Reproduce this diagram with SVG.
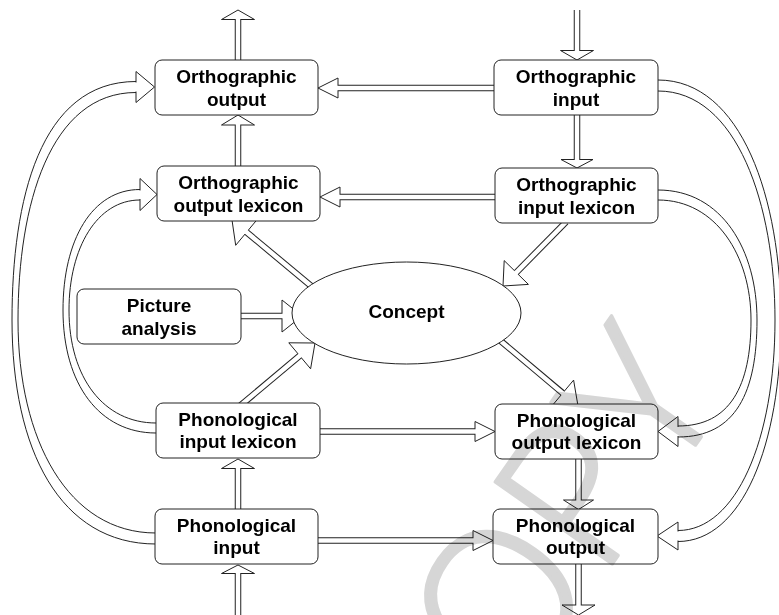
<svg xmlns="http://www.w3.org/2000/svg" width="779" height="615" viewBox="0 0 779 615">
<style>
.box{fill:#fff;stroke:#222;stroke-width:1}
.lbl{font-family:"Liberation Sans",Arial,sans-serif;font-weight:bold;font-size:19px;fill:#000;text-anchor:middle}
.so{stroke:#222;stroke-width:6.5;fill:none}
.si{stroke:#fff;stroke-width:4.5;fill:none}
.hd{fill:#fff;stroke:#222;stroke-width:1;stroke-linejoin:miter}
.cv{fill:none;stroke:#222;stroke-width:1}
.gap{stroke:#fff;stroke-width:2}
.wm{font-family:"Open Sans","Liberation Sans",sans-serif;font-weight:300;font-size:200px;fill:#d6d6d6;stroke:#d6d6d6;stroke-width:3.5;stroke-linejoin:round;mix-blend-mode:multiply}
</style>
<rect width="779" height="615" fill="#fff"/>
<g id="connectors">
  <path class="cv" d="M136,81.5 C40,81.5 12,200 12,320 C12,450 60,544 156,544"/>
  <path class="cv" d="M136,92.5 C50,92.5 18,205 18,320 C18,440 68,533 156,533"/>
  <polygon class="hd" points="136,71.5 136,102.5 154.5,87"/>
  <line class="gap" x1="136" y1="82.5" x2="136" y2="91.5"/>

  <path class="cv" d="M140,189.5 C92,189.5 63,240 63,310 C63,385 100,433 156,433"/>
  <path class="cv" d="M140,200 C97,200 69,248 69,310 C69,378 104,423 156,423"/>
  <polygon class="hd" points="140,178.5 140,210.5 157,194.5"/>
  <line class="gap" x1="140" y1="190.5" x2="140" y2="199"/>

  <path class="cv" d="M658,190 C722,190 757,250 757,320 C757,392 736,437 678,437"/>
  <path class="cv" d="M658,200 C716,200 751,256 751,320 C751,386 730,426 678,426"/>
  <polygon class="hd" points="678,416.5 678,446.5 658,431.5"/>
  <line class="gap" x1="678" y1="427" x2="678" y2="436"/>

  <path class="cv" d="M658,80 C742,80 781,200 781,320 C781,445 742,541.5 678,541.5"/>
  <path class="cv" d="M658,91 C737,91 775,205 775,320 C775,440 736,530.5 678,530.5"/>
  <polygon class="hd" points="678,522 678,550 657,536"/>
  <line class="gap" x1="678" y1="531.5" x2="678" y2="540.5"/>

  <line class="so" x1="238" y1="62" x2="238" y2="19.5"/>
  <polygon class="hd" points="221.5,19.5 254.5,19.5 238,10"/>
  <line class="si" x1="238" y1="62" x2="238" y2="18"/>

  <line class="so" x1="238" y1="168" x2="238" y2="125"/>
  <polygon class="hd" points="221.5,125 254.5,125 238,115"/>
  <line class="si" x1="238" y1="168" x2="238" y2="123.5"/>

  <line class="so" x1="577" y1="10" x2="577" y2="50.5"/>
  <polygon class="hd" points="560.5,50.5 593.5,50.5 577,60"/>
  <line class="si" x1="577" y1="10" x2="577" y2="52"/>

  <line class="so" x1="577" y1="114" x2="577" y2="159.5"/>
  <polygon class="hd" points="561,159.5 593,159.5 577,168"/>
  <line class="si" x1="577" y1="114" x2="577" y2="161"/>

  <line class="so" x1="495" y1="88" x2="338" y2="88"/>
  <polygon class="hd" points="338,78 338,98 318,88"/>
  <line class="si" x1="495" y1="88" x2="336.5" y2="88"/>

  <line class="so" x1="496" y1="197" x2="340" y2="197"/>
  <polygon class="hd" points="340,187 340,207 320,197"/>
  <line class="si" x1="496" y1="197" x2="338.5" y2="197"/>

  <line class="so" x1="566" y1="222" x2="516.3" y2="272.5"/>
  <polygon class="hd" points="528.4,284.4 504.2,260.6 503,286"/>
  <line class="si" x1="566" y1="222" x2="515.2" y2="273.6"/>

  <line class="so" x1="316" y1="290" x2="246.6" y2="232.2"/>
  <polygon class="hd" points="257.5,219.1 235.7,245.3 232,220"/>
  <line class="si" x1="316" y1="290" x2="245.4" y2="231.2"/>

  <line class="so" x1="240" y1="316" x2="282" y2="316"/>
  <polygon class="hd" points="282,300 282,332 302,316"/>
  <line class="si" x1="240" y1="316" x2="283.5" y2="316"/>

  <line class="so" x1="235" y1="410" x2="299.7" y2="355.8"/>
  <polygon class="hd" points="310.6,368.8 288.8,342.8 315,343"/>
  <line class="si" x1="235" y1="410" x2="300.9" y2="354.8"/>

  <line class="so" x1="490" y1="332" x2="562.7" y2="393.1"/>
  <polygon class="hd" points="551.8,406.1 573.6,380.1 578,406"/>
  <line class="si" x1="490" y1="332" x2="563.8" y2="394.1"/>

  <line class="so" x1="319" y1="431.5" x2="475" y2="431.5"/>
  <polygon class="hd" points="475,421.5 475,441.5 495,431.5"/>
  <line class="si" x1="319" y1="431.5" x2="476.5" y2="431.5"/>

  <line class="so" x1="238" y1="510" x2="238" y2="468.5"/>
  <polygon class="hd" points="221.5,468.5 254.5,468.5 238,459"/>
  <line class="si" x1="238" y1="510" x2="238" y2="467"/>

  <line class="so" x1="238" y1="615" x2="238" y2="573.5"/>
  <polygon class="hd" points="221.5,573.5 254.5,573.5 238,565"/>
  <line class="si" x1="238" y1="615" x2="238" y2="572"/>

  <line class="so" x1="317" y1="540.5" x2="473" y2="540.5"/>
  <polygon class="hd" points="473,530.5 473,550.5 493,540.5"/>
  <line class="si" x1="317" y1="540.5" x2="474.5" y2="540.5"/>

  <line class="so" x1="578.5" y1="458" x2="578.5" y2="500"/>
  <polygon class="hd" points="563.5,500 593.5,500 578.5,509.5"/>
  <line class="si" x1="578.5" y1="458" x2="578.5" y2="501.5"/>

  <line class="so" x1="578.5" y1="563" x2="578.5" y2="605"/>
  <polygon class="hd" points="562,605 595,605 578.5,615"/>
  <line class="si" x1="578.5" y1="563" x2="578.5" y2="606.5"/>
</g>
<g id="ortho_output">
  <rect class="box" x="155" y="60" width="163" height="55" rx="7"/>
  <text class="lbl" x="236.5" y="83">Orthographic</text>
  <text class="lbl" x="236.5" y="105.5">output</text>
</g>
<g id="ortho_input">
  <rect class="box" x="494" y="60" width="164" height="55" rx="7"/>
  <text class="lbl" x="576" y="83">Orthographic</text>
  <text class="lbl" x="576" y="105.5">input</text>
</g>
<g id="ortho_output_lexicon">
  <rect class="box" x="157" y="166" width="163" height="55" rx="7"/>
  <text class="lbl" x="238.5" y="189">Orthographic</text>
  <text class="lbl" x="238.5" y="211.5">output lexicon</text>
</g>
<g id="ortho_input_lexicon">
  <rect class="box" x="495" y="168" width="163" height="55" rx="7"/>
  <text class="lbl" x="576.5" y="191">Orthographic</text>
  <text class="lbl" x="576.5" y="213.5">input lexicon</text>
</g>
<g id="picture_analysis">
  <rect class="box" x="77" y="289" width="164" height="55" rx="7"/>
  <text class="lbl" x="159" y="312">Picture</text>
  <text class="lbl" x="159" y="334.5">analysis</text>
</g>
<g id="concept">
  <ellipse class="box" cx="406.5" cy="313" rx="114.5" ry="51"/>
  <text class="lbl" x="406.5" y="318">Concept</text>
</g>
<g id="phon_input_lexicon">
  <rect class="box" x="156" y="403" width="164" height="55" rx="7"/>
  <text class="lbl" x="238" y="425.5">Phonological</text>
  <text class="lbl" x="238" y="448">input lexicon</text>
</g>
<g id="phon_output_lexicon">
  <rect class="box" x="495" y="404" width="163" height="55" rx="7"/>
  <text class="lbl" x="576.5" y="426.5">Phonological</text>
  <text class="lbl" x="576.5" y="449">output lexicon</text>
</g>
<g id="phon_input">
  <rect class="box" x="155" y="509" width="163" height="55" rx="7"/>
  <text class="lbl" x="236.5" y="531.5">Phonological</text>
  <text class="lbl" x="236.5" y="554">input</text>
</g>
<g id="phon_output">
  <rect class="box" x="493" y="509" width="165" height="55" rx="7"/>
  <text class="lbl" x="575.5" y="531.5">Phonological</text>
  <text class="lbl" x="575.5" y="554">output</text>
</g>
<text class="wm" transform="translate(442,807) rotate(-55)">COPY</text>
</svg>
